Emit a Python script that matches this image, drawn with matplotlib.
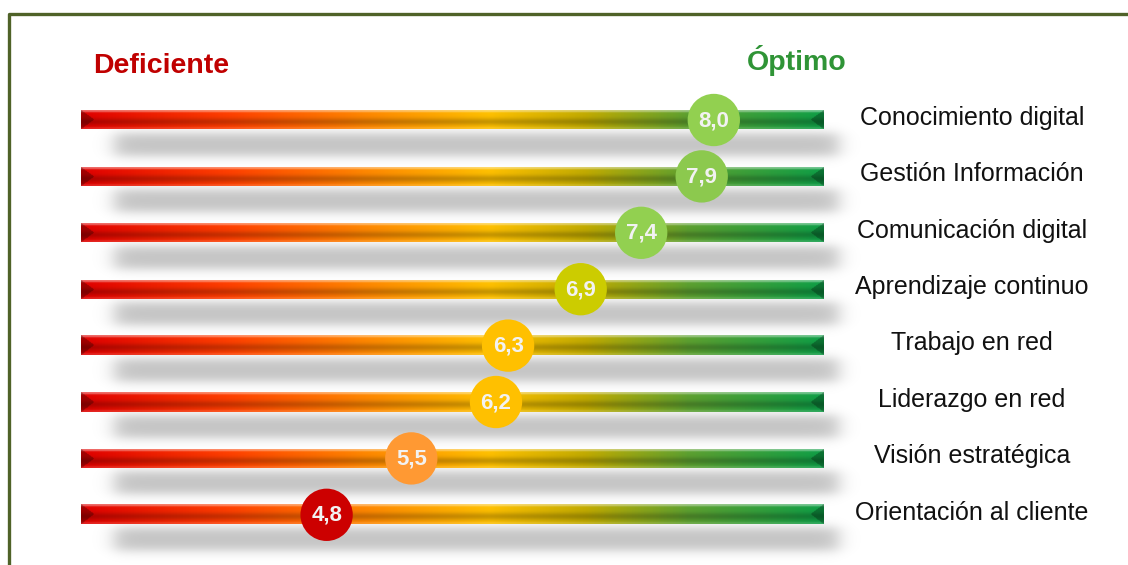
import numpy as np
import matplotlib.pyplot as plt
from matplotlib.colors import LinearSegmentedColormap
from matplotlib.lines import Line2D

# Datos del gráfico
competencias = ['Conocimiento digital', 'Gestión Información', 'Comunicación digital',
                'Aprendizaje continuo', 'Trabajo en red', 'Liderazgo en red',
                'Visión estratégica', 'Orientación al cliente']
puntuaciones = [8.0, 7.9, 7.4, 6.9, 6.3, 6.2, 5.5, 4.8]
colores_punto = ['#92d050', '#8cc94e', '#92d050', '#cccc00',
                 '#ffc000', '#ffc000', '#ff9933', '#cc0000']
etiqueta_min = 'Deficiente'
etiqueta_max = 'Óptimo'

FUENTE = ['Liberation Sans', 'DejaVu Sans']

# Tamaño de la imagen (px) y escala
W, H = 1128, 565
PX_UNIDAD = 121.0      # px por punto de la escala
PX_CERO = -254.2       # posicion px del valor 0
FILA_PX = 56.4         # separacion entre filas
FILA0_PX = 120.0       # centro de la primera fila


def fx(px):
    return (px - PX_CERO) / PX_UNIDAD


def fy(px):
    return (px - FILA0_PX) / FILA_PX


BAR_INI, BAR_FIN = fx(81), fx(823)
MEDIA_ALTO = 9.5 / FILA_PX

fig = plt.figure(figsize=(W / 100, H / 100), dpi=100)
ax = fig.add_axes([0, 0, 1, 1])
ax.axis('off')

# Imagen de la barra con degradado rojo -> verde
cmap_barra = LinearSegmentedColormap.from_list('barra', [
    (0.0, '#e00000'), (0.2, '#ff4000'), (0.38, '#ff8600'), (0.55, '#ffc000'),
    (0.68, '#c2ab00'), (0.82, '#5ca030'), (1.0, '#0f9e46')])
nx, ny = 742, 40
t = np.linspace(0, 1, nx)
v = np.linspace(0, 1, ny)[:, None]
base = cmap_barra(t)[:, :3][None, :, :]
oscuro = 1 - 0.22 * np.exp(-((v - 0.62) / 0.2) ** 2)
brillo = 0.45 * np.exp(-((v - 0.03) / 0.07) ** 2) + 0.15 * np.exp(-((v - 0.97) / 0.06) ** 2)
img = base * oscuro[:, :, None]
img = img + (1 - img) * brillo[:, :, None]
# extremos biselados
j = np.arange(nx)[None, :]
pico = 13 * (1 - np.abs(2 * v - 1))
mask = (j < pico) | ((nx - 1 - j) < pico)
img[mask] = img[mask] * 0.72
img = np.clip(img, 0, 1)


def rect_suave(x, a, b, s):
    return 0.5 * (np.tanh((x - a) / s) - np.tanh((x - b) / s))


filas = np.arange(len(competencias))

for i, (nombre, valor, col) in enumerate(zip(competencias, puntuaciones, colores_punto)):
    y = filas[i]
    cy = FILA0_PX + FILA_PX * y
    # sombra difusa bajo la barra
    sx = np.arange(90, 870)
    sy = np.arange(cy + 2, cy + 54)
    alfa = rect_suave(sy[:, None], cy + 13, cy + 36, 6.5) * rect_suave(sx[None, :], 114, 838, 11)
    sombra = np.zeros((len(sy), len(sx), 4))
    sombra[..., 3] = 0.24 * alfa
    ax.imshow(sombra, extent=(fx(sx[0]), fx(sx[-1]), fy(sy[-1]), fy(sy[0])),
              origin='upper', aspect='auto', zorder=1, interpolation='bilinear')
    # barra
    ax.imshow(img, extent=(BAR_INI, BAR_FIN, y + MEDIA_ALTO, y - MEDIA_ALTO),
              origin='upper', aspect='auto', zorder=2, interpolation='bilinear')
    # etiqueta de la competencia
    ax.text(fx(972), y - 0.04, nombre, ha='center', va='center',
            fontsize=18, color='#111111', family=FUENTE, zorder=5)

# puntos con la puntuacion
ax.scatter(puntuaciones, filas, s=1420, c=colores_punto, linewidths=0, zorder=4)
for i, valor in enumerate(puntuaciones):
    ax.text(valor, filas[i] + 0.01, f'{valor:.1f}'.replace('.', ','), ha='center', va='center',
            fontsize=16, fontweight='bold', color='#f2f2f2', family=FUENTE, zorder=5)

# titulos de los extremos
ax.text(93 / W, 1 - 73 / H, etiqueta_min, transform=ax.transAxes, ha='left', va='baseline',
        fontsize=20.5, fontweight='bold', color='#c00000', family=FUENTE)
ax.text(747 / W, 1 - 70 / H, etiqueta_max, transform=ax.transAxes, ha='left', va='baseline',
        fontsize=20.5, fontweight='bold', color='#2f9436', family=FUENTE)

ax.set_xlim(fx(0), fx(W))
ax.set_ylim(fy(H), fy(0))

# marco
fig.add_artist(Line2D([9 / W, 9 / W, 1.01], [-0.01, 1 - 14 / H, 1 - 14 / H],
                      transform=fig.transFigure, color='#4f6228', lw=2.4))

fig.savefig('out.png', dpi=100)
